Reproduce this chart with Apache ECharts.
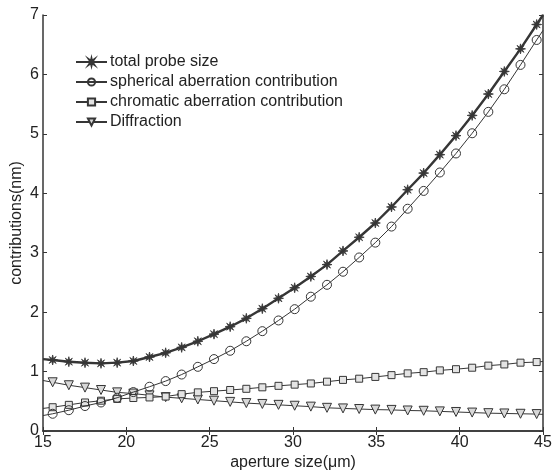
<!DOCTYPE html>
<html>
<head>
<meta charset="utf-8">
<script src="https://cdn.jsdelivr.net/npm/echarts@6/dist/echarts.min.js"></script>
<style>
  html, body { margin: 0; padding: 0; background: #fff; }
  #chart { width: 553px; height: 471px; }
</style>
</head>
<body>
<div id="chart"></div>
<script>
// aperture positions: first and last are the line ends (no marker)
const aperture = [15, 15.58, 16.55, 17.52, 18.48, 19.45, 20.42, 21.39, 22.36, 23.32, 24.29,
  25.26, 26.23, 27.2, 28.16, 29.13, 30.1, 31.07, 32.04, 33.0, 33.97, 34.94, 35.91,
  36.88, 37.84, 38.81, 39.78, 40.75, 41.72, 42.68, 43.65, 44.62, 45]

const totalProbe = [1.21, 1.195, 1.166, 1.149, 1.138, 1.15, 1.178, 1.245, 1.316, 1.407, 1.51,
  1.63, 1.755, 1.896, 2.058, 2.233, 2.41, 2.6, 2.8, 3.03, 3.26, 3.5, 3.77,
  4.06, 4.34, 4.65, 4.97, 5.31, 5.67, 6.05, 6.43, 6.84, 7.0]

const spherical = [0.26, 0.29, 0.35, 0.42, 0.48, 0.56, 0.655, 0.745, 0.84, 0.95, 1.08,
  1.21, 1.35, 1.51, 1.68, 1.86, 2.05, 2.26, 2.46, 2.68, 2.92, 3.17, 3.44,
  3.74, 4.04, 4.35, 4.67, 5.01, 5.37, 5.75, 6.16, 6.58, 6.74]

const chromatic = [0.38, 0.40, 0.44, 0.48, 0.51, 0.54, 0.555, 0.565, 0.58, 0.62, 0.65,
  0.67, 0.69, 0.71, 0.735, 0.76, 0.78, 0.80, 0.83, 0.86, 0.88, 0.91, 0.94,
  0.97, 0.99, 1.02, 1.04, 1.065, 1.10, 1.12, 1.15, 1.16, 1.17]

const diffraction = [0.85, 0.82, 0.77, 0.73, 0.69, 0.65, 0.63, 0.60, 0.57, 0.55, 0.53,
  0.51, 0.49, 0.47, 0.455, 0.44, 0.425, 0.41, 0.39, 0.38, 0.37, 0.36, 0.355,
  0.345, 0.34, 0.33, 0.32, 0.31, 0.30, 0.295, 0.29, 0.285, 0.28]

const seriesNames = ['total probe size', 'spherical aberration contribution',
  'chromatic aberration contribution', 'Diffraction']

const xTicks = [15, 20, 25, 30, 35, 40, 45]
const yTicks = [0, 1, 2, 3, 4, 5, 6, 7]

const ink = '#363636'
const font = 'Liberation Sans, Arial, sans-serif'
const starPath = 'path://M50,0 L58,34 L85,15 L66,42 L100,50 L66,58 L85,85 L58,66 L50,100 L42,66 L15,85 L34,58 L0,50 L34,42 L15,15 L42,34 Z'

function pts(ys) {
  const last = ys.length - 1
  return ys.map((y, i) => {
    const p = { value: [aperture[i], y] }
    if (i === 0 || i === last) p.symbol = 'none'
    return p
  })
}

function line(name, ys, opts) {
  return Object.assign({
    name, type: 'line', data: pts(ys),
    symbolSize: 8,
    showAllSymbol: true,
    lineStyle: { color: ink, width: 1 },
    itemStyle: { color: '#fff', borderColor: ink, borderWidth: 1 },
    emphasis: { disabled: true },
    animation: false,
  }, opts)
}

const chart = echarts.init(document.getElementById('chart'), null, { renderer: 'canvas' })

const axisBase = {
  axisLine: { show: true, lineStyle: { color: ink, width: 1.5 } },
  axisTick: { show: true, inside: true, length: 4, lineStyle: { color: ink } },
  splitLine: { show: false },
}

chart.setOption({
  backgroundColor: '#fff',
  animation: false,
  grid: { left: 43, right: 10, top: 15, bottom: 40, outerBoundsMode: 'none', containLabel: false },
  legend: {
    left: 70, top: 49, orient: 'vertical',
    itemWidth: 31, itemHeight: 9, itemGap: 4,
    data: seriesNames,
    textStyle: { color: '#222', fontSize: 16, fontFamily: font, padding: [0, 0, 0, -2] },
  },
  xAxis: [
    Object.assign({
      type: 'value', min: 15, max: 45, interval: 5,
      name: 'aperture size(μm)', nameLocation: 'middle', nameGap: 24,
      nameMoveOverlap: false,
      nameTextStyle: { color: '#222', fontSize: 16, fontFamily: font },
      axisLabel: {
        color: '#222', fontSize: 16, fontFamily: font, margin: 4,
        formatter: v => xTicks.includes(v) ? String(v) : '',
      },
    }, axisBase),
    Object.assign({
      type: 'value', min: 15, max: 45, interval: 5, position: 'top',
      axisLabel: { show: false },
    }, axisBase),
  ],
  yAxis: [
    Object.assign({
      type: 'value', min: 0, max: 7, interval: 1,
      name: 'contributions(nm)', nameLocation: 'middle', nameGap: 18,
      nameMoveOverlap: false,
      nameTextStyle: { color: '#222', fontSize: 16, fontFamily: font },
      axisLabel: {
        color: '#222', fontSize: 16, fontFamily: font, margin: 4,
        formatter: v => yTicks.includes(v) ? String(v) : '',
      },
    }, axisBase),
    Object.assign({
      type: 'value', min: 0, max: 7, interval: 1, position: 'right',
      axisLabel: { show: false },
    }, axisBase),
  ],
  series: [
    line(seriesNames[3], diffraction, {
      symbol: 'triangle', symbolRotate: 180, symbolSize: 9,
      itemStyle: { color: '#d8d8d8', borderColor: ink, borderWidth: 1 },
      z: 2,
    }),
    line(seriesNames[2], chromatic, {
      symbol: 'rect', symbolSize: 7,
      itemStyle: { color: '#e4e4e4', borderColor: ink, borderWidth: 1 },
      z: 3,
    }),
    line(seriesNames[1], spherical, {
      symbol: 'circle', symbolSize: 9,
      itemStyle: { color: 'rgba(255,255,255,0)', borderColor: ink, borderWidth: 1 },
      z: 4,
    }),
    line(seriesNames[0], totalProbe, {
      symbol: starPath, symbolSize: 10,
      lineStyle: { color: ink, width: 2.4 },
      itemStyle: { color: ink, borderColor: ink, borderWidth: 0.8 },
      z: 5,
    }),
  ],
})
</script>
</body>
</html>
